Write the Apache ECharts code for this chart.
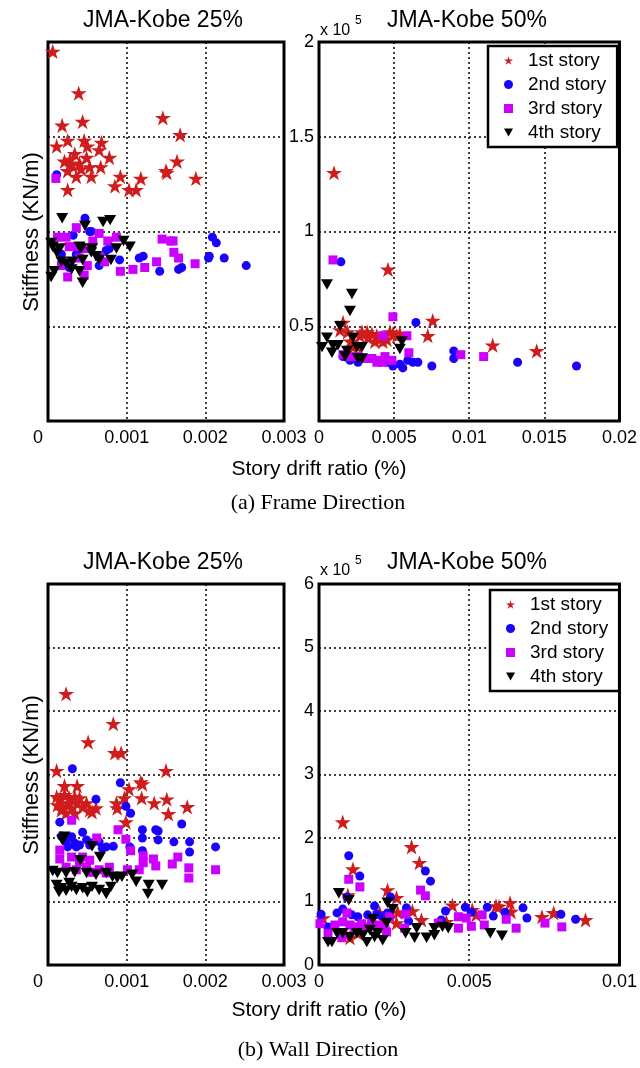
<!DOCTYPE html>
<html>
<head>
<meta charset="utf-8">
<script src="https://cdn.jsdelivr.net/npm/echarts@6/dist/echarts.min.js"></script>
<style>
  html, body { margin: 0; padding: 0; background: #fff; }
  #chart { width: 640px; height: 1068px; }
</style>
</head>
<body>
<div id="chart"></div>
<script>
const storyNames = ["1st story", "2nd story", "3rd story", "4th story"]

const frame25_1st = [[0.00006,1.95],[0.00039,1.73],[0.00018,1.56],[0.00044,1.58],[0.00146,1.60],[0.00168,1.51],[0.00011,1.45],[0.00025,1.48],[0.00046,1.48],[0.00068,1.47],[0.00065,1.43],[0.00078,1.39],[0.0005,1.45],[0.00034,1.41],[0.00021,1.37],[0.0003,1.35],[0.0004,1.36],[0.00049,1.39],[0.00053,1.34],[0.00067,1.34],[0.00025,1.32],[0.00036,1.29],[0.00055,1.29],[0.00092,1.29],[0.00118,1.28],[0.0015,1.32],[0.00151,1.31],[0.00164,1.37],[0.00188,1.28],[0.00085,1.24],[0.00103,1.22],[0.00112,1.22],[0.00025,1.22],[0.00028,1.38],[0.00042,1.33]]
const frame25_2nd = [[0.00011,1.30],[0.00047,1.07],[0.00053,1.0],[0.00055,1.0],[0.00032,0.98],[0.00209,0.97],[0.00214,0.94],[0.00205,0.87],[0.00204,0.86],[0.00224,0.86],[0.00252,0.82],[0.00116,0.86],[0.00121,0.87],[0.00142,0.79],[0.00166,0.8],[0.0017,0.81],[0.00091,0.85],[0.00078,0.91],[0.00074,0.9],[0.00065,0.82],[0.00027,0.81],[0.00017,0.88],[0.00036,0.88]]
const frame25_3rd = [[0.0001,1.28],[0.00036,1.02],[0.00065,0.99],[0.00012,0.97],[0.00023,0.97],[0.00145,0.96],[0.00156,0.95],[0.00159,0.95],[0.0016,0.89],[0.00166,0.86],[0.00187,0.83],[0.00138,0.84],[0.00123,0.81],[0.00108,0.8],[0.00092,0.79],[0.00087,0.97],[0.00076,0.95],[0.00057,0.95],[0.00027,0.92],[0.00036,0.92],[0.00049,0.91],[0.00065,0.87],[0.00072,0.84],[0.0005,0.82],[0.00025,0.76],[0.00046,0.77],[0.00017,0.82],[0.0004,0.86]]
const frame25_4th = [[0.00018,1.07],[0.0007,1.05],[0.00079,1.06],[0.00047,1.03],[0.00096,0.95],[0.00104,0.92],[0.00004,0.94],[0.00006,0.92],[0.00015,0.91],[0.00011,0.89],[0.0004,0.92],[0.00042,0.91],[0.00056,0.91],[0.00055,0.89],[0.00087,0.91],[0.00017,0.84],[0.00023,0.83],[0.00031,0.84],[0.00044,0.85],[0.00061,0.87],[0.00065,0.85],[0.0008,0.85],[0.0003,0.80],[0.0004,0.79],[0.00008,0.79],[0.00004,0.76],[0.00044,0.73]]

const frame50_1st = [[0.001,1.31],[0.00459,0.80],[0.00757,0.53],[0.00724,0.45],[0.01156,0.40],[0.01449,0.37],[0.0016,0.52],[0.0014,0.48],[0.0019,0.47],[0.0021,0.42],[0.00286,0.47],[0.0032,0.47],[0.00352,0.46],[0.00385,0.45],[0.00419,0.44],[0.00452,0.43],[0.00492,0.46],[0.00518,0.45],[0.00425,0.42],[0.00372,0.42],[0.00326,0.44],[0.00272,0.45],[0.00472,0.47],[0.00538,0.46],[0.00226,0.39],[0.00259,0.39]]
const frame50_2nd = [[0.00146,0.84],[0.00645,0.52],[0.00897,0.37],[0.00897,0.33],[0.01322,0.31],[0.01714,0.29],[0.00751,0.29],[0.00658,0.31],[0.00625,0.31],[0.00591,0.32],[0.00558,0.28],[0.00538,0.30],[0.00492,0.29],[0.00452,0.31],[0.00405,0.31],[0.00259,0.31],[0.00206,0.32],[0.0016,0.34]]
const frame50_3rd = [[0.00093,0.85],[0.00492,0.55],[0.00585,0.45],[0.00425,0.45],[0.00598,0.36],[0.00944,0.35],[0.01096,0.34],[0.00485,0.32],[0.00439,0.34],[0.00392,0.32],[0.00352,0.33],[0.00306,0.33],[0.00259,0.34],[0.00206,0.34],[0.0016,0.35],[0.00385,0.31],[0.00425,0.31]]
const frame50_4th = [[0.00053,0.72],[0.00219,0.67],[0.00206,0.58],[0.0014,0.50],[0.00053,0.44],[0.0002,0.39],[0.00093,0.40],[0.00126,0.40],[0.00086,0.36],[0.00186,0.37],[0.00173,0.34],[0.00226,0.44],[0.00252,0.39],[0.00286,0.39],[0.00259,0.33],[0.00286,0.33],[0.00552,0.42],[0.00538,0.38]]

const wall25_1st = [[0.00023,4.27],[0.00083,3.80],[0.00051,3.51],[0.00085,3.34],[0.00093,3.34],[0.00011,3.06],[0.0015,3.06],[0.00118,2.88],[0.0012,2.85],[0.00103,2.77],[0.00097,2.63],[0.00119,2.63],[0.00135,2.55],[0.00151,2.61],[0.00153,2.38],[0.00177,2.49],[0.00087,2.55],[0.00088,2.47],[0.00099,2.25],[0.00037,2.82],[0.00021,2.82],[0.00011,2.65],[0.00015,2.60],[0.00021,2.68],[0.00027,2.63],[0.00034,2.65],[0.0004,2.63],[0.00012,2.52],[0.00018,2.49],[0.00025,2.55],[0.0003,2.47],[0.00037,2.55],[0.00044,2.49],[0.00053,2.44],[0.00056,2.41],[0.00061,2.47],[0.00023,2.39],[0.00034,2.39],[0.00017,2.44],[0.00049,2.55]]
const wall25_2nd = [[0.00031,3.09],[0.00092,2.87],[0.00061,2.61],[0.00099,2.50],[0.00105,2.39],[0.00015,2.25],[0.0017,2.22],[0.0012,2.13],[0.00137,2.13],[0.0014,2.11],[0.0012,2.0],[0.0014,1.97],[0.0016,1.94],[0.0018,1.94],[0.0018,1.78],[0.00213,1.86],[0.00083,1.87],[0.00104,1.86],[0.0012,1.80],[0.00017,2.03],[0.00023,1.94],[0.0003,2.02],[0.00034,1.92],[0.0004,1.89],[0.00044,2.09],[0.00049,1.97],[0.00053,1.89],[0.00056,1.92],[0.00065,1.94],[0.00069,1.84],[0.00074,1.86],[0.00025,1.86],[0.00036,1.86]]
const wall25_3rd = [[0.0003,2.28],[0.00089,2.13],[0.00099,1.98],[0.00062,2.0],[0.00105,1.80],[0.00121,1.72],[0.00134,1.67],[0.00137,1.56],[0.00121,1.61],[0.00116,1.50],[0.00165,1.70],[0.00158,1.59],[0.00179,1.53],[0.00179,1.37],[0.00213,1.50],[0.00015,1.81],[0.00015,1.67],[0.0003,1.70],[0.00044,1.70],[0.00023,1.54],[0.00036,1.50],[0.00049,1.54],[0.00056,1.46],[0.00065,1.50],[0.00074,1.45],[0.00078,1.54],[0.0004,1.62],[0.00053,1.65],[0.00101,1.50]]
const wall25_4th = [[0.00021,2.02],[0.00018,1.97],[0.00056,1.87],[0.00041,1.65],[0.00066,1.70],[0.00006,1.48],[0.00012,1.45],[0.00023,1.45],[0.00034,1.46],[0.00049,1.45],[0.00061,1.42],[0.00074,1.45],[0.00082,1.39],[0.00094,1.39],[0.00107,1.42],[0.00011,1.26],[0.00017,1.21],[0.00023,1.17],[0.0003,1.23],[0.00036,1.18],[0.00044,1.21],[0.0005,1.15],[0.00056,1.23],[0.00065,1.18],[0.00074,1.13],[0.0008,1.23],[0.00088,1.37],[0.00112,1.31],[0.00128,1.26],[0.00127,1.12],[0.00145,1.26],[0.00074,1.12],[0.00014,1.15],[0.00027,1.29]]

const wall50_1st = [[0.00079,2.25],[0.00308,1.86],[0.00334,1.61],[0.00113,1.51],[0.00228,1.18],[0.00258,1.06],[0.00096,1.10],[0.00444,0.94],[0.0051,0.87],[0.00523,0.79],[0.00589,0.93],[0.00599,0.92],[0.00636,0.98],[0.00639,0.84],[0.00742,0.76],[0.00781,0.82],[0.00887,0.71],[0.00311,0.85],[0.00341,0.71],[0.00262,0.83],[0.00258,0.66],[0.00013,0.74],[0.00103,0.43],[0.00129,0.50],[0.00202,0.82],[0.00219,0.71],[0.00424,0.68]]
const wall50_2nd = [[0.00099,1.72],[0.00136,1.40],[0.00354,1.48],[0.00371,1.32],[0.00093,1.07],[0.00238,1.07],[0.00185,0.93],[0.00291,0.90],[0.00298,0.69],[0.00007,0.80],[0.0003,0.60],[0.0006,0.82],[0.00079,0.88],[0.00109,0.79],[0.00129,0.76],[0.00162,0.79],[0.00192,0.80],[0.00212,0.76],[0.00228,0.82],[0.00421,0.85],[0.00487,0.91],[0.00507,0.83],[0.0056,0.91],[0.0058,0.77],[0.00619,0.83],[0.00679,0.90],[0.00692,0.74],[0.00805,0.80],[0.00854,0.72],[0.00407,0.71]]
const wall50_3rd = [[0.00099,1.35],[0.00136,1.23],[0.00338,1.18],[0.00354,1.09],[0.00003,0.65],[0.0003,0.50],[0.00053,0.63],[0.00076,0.43],[0.00093,0.82],[0.00079,0.68],[0.00103,0.63],[0.00119,0.60],[0.00142,0.65],[0.00159,0.60],[0.00175,0.66],[0.00195,0.63],[0.00219,0.58],[0.00225,0.52],[0.00235,0.76],[0.00288,0.80],[0.00285,0.58],[0.00397,0.66],[0.00464,0.76],[0.00464,0.58],[0.0049,0.74],[0.00507,0.61],[0.00543,0.79],[0.0055,0.63],[0.00623,0.72],[0.00656,0.58],[0.00752,0.66],[0.00808,0.60]]
const wall50_4th = [[0.00066,1.13],[0.00099,1.02],[0.00179,0.72],[0.00245,0.88],[0.00228,0.98],[0.00225,0.66],[0.0003,0.36],[0.00043,0.36],[0.0006,0.50],[0.00079,0.50],[0.00103,0.44],[0.00126,0.50],[0.00146,0.47],[0.00159,0.36],[0.00169,0.55],[0.00185,0.44],[0.00195,0.50],[0.00212,0.39],[0.00288,0.50],[0.00325,0.58],[0.00318,0.43],[0.00358,0.43],[0.00384,0.47],[0.00384,0.58],[0.00411,0.60],[0.0043,0.58],[0.0057,0.50],[0.00609,0.46]]

const panels = [
  [frame25_1st, frame25_2nd, frame25_3rd, frame25_4th],
  [frame50_1st, frame50_2nd, frame50_3rd, frame50_4th],
  [wall25_1st, wall25_2nd, wall25_3rd, wall25_4th],
  [wall50_1st, wall50_2nd, wall50_3rd, wall50_4th]
]

const xMax = [0.003, 0.02, 0.003, 0.01]
const xStep = [0.001, 0.005, 0.001, 0.005]
const yMax = [2, 2, 6, 6]
const yStep = [0.5, 0.5, 1, 1]

const STAR = "path://M50,0L61.2,34.5L97.6,34.5L68.2,55.9L79.4,90.5L50,69.1L20.6,90.5L31.8,55.9L2.4,34.5L38.8,34.5Z"
const TRI_DOWN = "path://M0,0L100,0L50,87Z"
const markers = [
  { symbol: STAR, size: 16, color: "#cf1d1d", icon: STAR },
  { symbol: "circle", size: 9, color: "#1a00ff", icon: "circle" },
  { symbol: "rect", size: 9, color: "#cc00ff", icon: "rect" },
  { symbol: TRI_DOWN, size: 12, color: "#000000", icon: TRI_DOWN }
]

const FONT = '"Liberation Sans", Arial, sans-serif'
const SERIF = '"Liberation Serif", "Times New Roman", serif'

const grids = [
  { left: 48, top: 42, width: 236, height: 379 },
  { left: 319, top: 42, width: 301, height: 379 },
  { left: 48, top: 584, width: 236, height: 381 },
  { left: 319, top: 584, width: 302, height: 381 }
]

const fmt = (v) => String(Number(v.toFixed(4)))
const dotted = { show: true, lineStyle: { color: "#000", type: [2, 3], width: 1.5 } }

const chart = echarts.init(document.getElementById("chart"), null, { renderer: "canvas" })

const series = []
panels.forEach((sets, p) => {
  sets.forEach((data, s) => {
    series.push({
      type: "scatter",
      name: storyNames[s],
      xAxisIndex: p,
      yAxisIndex: p,
      data: data,
      symbol: markers[s].symbol,
      symbolSize: markers[s].size,
      symbolKeepAspect: true,
      itemStyle: { color: markers[s].color, opacity: 1 },
      animation: false
    })
  })
})

const legendFor = (left, top) => ({
  orient: "vertical",
  left: left,
  top: top,
  padding: [5, 11, 5, 16],
  itemWidth: 9,
  itemHeight: 9,
  itemGap: 5,
  backgroundColor: "#fff",
  borderColor: "#000",
  borderWidth: 2.5,
  borderRadius: 0,
  selectedMode: false,
  textStyle: { fontFamily: FONT, fontSize: 19, color: "#000", padding: [0, 0, 0, 10] },
  data: storyNames.map((name, i) => ({ name: name, icon: markers[i].icon, itemStyle: { color: markers[i].color } }))
})

const textEl = (x, y, text, font, extra) => Object.assign({
  type: "text", x: x, y: y,
  style: { text: text, font: font, fill: "#000", align: "center", verticalAlign: "middle" }
}, extra || {})
const leftText = (x, y, text, font) => ({
  type: "text", x: x, y: y,
  style: { text: text, font: font, fill: "#000", align: "left", verticalAlign: "middle" }
})

chart.setOption({
  backgroundColor: "#fff",
  animation: false,
  grid: grids.map((g) => Object.assign({ show: true, borderColor: "#000", borderWidth: 3, backgroundColor: "transparent" }, g)),
  xAxis: grids.map((g, i) => ({
    type: "value",
    gridIndex: i,
    min: 0,
    max: xMax[i],
    interval: xStep[i],
    axisLine: { show: false },
    axisTick: { show: false },
    splitLine: dotted,
    axisLabel: {
      color: "#000",
      fontFamily: FONT,
      fontSize: 18,
      margin: 8,
      showMinLabel: true,
      showMaxLabel: true,
      formatter: (v) => (v === 0 && (i === 0 || i === 2)) ? "{z|0}" : fmt(v),
      rich: { z: { fontFamily: FONT, fontSize: 18, color: "#000", padding: [0, 20, 0, 0] } }
    }
  })),
  yAxis: grids.map((g, i) => ({
    type: "value",
    gridIndex: i,
    min: 0,
    max: yMax[i],
    interval: yStep[i],
    axisLine: { show: false },
    axisTick: { show: false },
    splitLine: dotted,
    axisLabel: {
      show: i === 1 || i === 3,
      color: "#000",
      fontFamily: FONT,
      fontSize: 18,
      margin: 5,
      formatter: (v) => (v === 0 && i === 1) ? "" : fmt(v)
    }
  })),
  legend: [legendFor(488, 46), legendFor(490, 590)],
  graphic: [
    textEl(163, 21, "JMA-Kobe 25%", "23px " + FONT),
    textEl(467, 21, "JMA-Kobe 50%", "23px " + FONT),
    textEl(163, 563, "JMA-Kobe 25%", "23px " + FONT),
    textEl(467, 563, "JMA-Kobe 50%", "23px " + FONT),
    leftText(320, 31, "x 10", "16px " + FONT),
    leftText(355, 21, "5", "12px " + FONT),
    leftText(320, 571, "x 10", "16px " + FONT),
    leftText(355, 561, "5", "12px " + FONT),
    textEl(32, 232, "Stiffness (KN/m)", "22px " + FONT, { rotation: Math.PI / 2 }),
    textEl(32, 775, "Stiffness (KN/m)", "22px " + FONT, { rotation: Math.PI / 2 }),
    textEl(319, 469, "Story drift ratio (%)", "21px " + FONT),
    textEl(319, 1010, "Story drift ratio (%)", "21px " + FONT),
    textEl(318, 503, "(a) Frame Direction", "22px " + SERIF),
    textEl(318, 1050, "(b) Wall Direction", "22px " + SERIF)
  ],
  series: series
})
</script>
</body>
</html>
